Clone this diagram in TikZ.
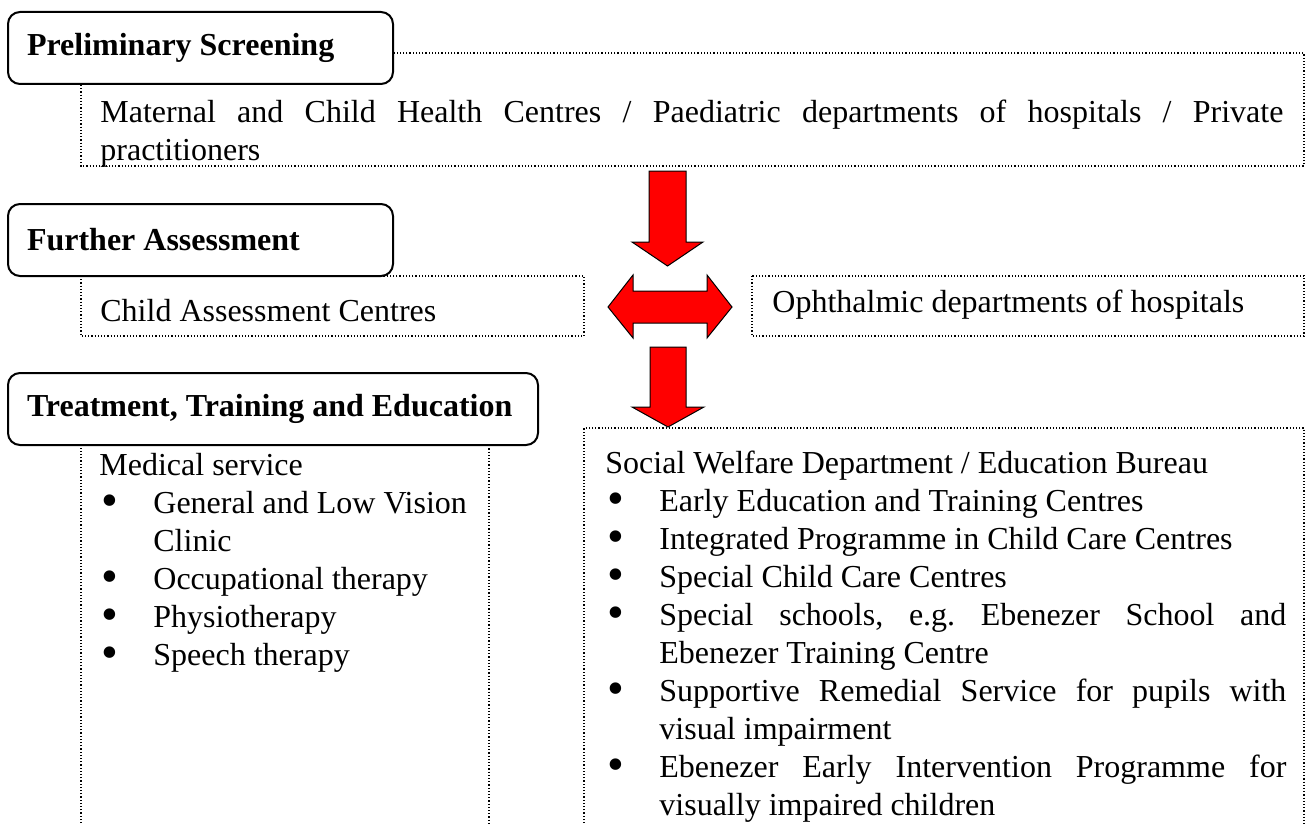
\documentclass[tikz,border=0pt]{standalone}
\usepackage{fontspec}
\setmainfont{Liberation Serif}
\usepackage{graphicx}
\usepackage{tikz}
\usetikzlibrary{positioning}

\newcommand{\blt}{\makebox[27pt][l]{\hspace{1pt}\smash{\raisebox{-0.1em}{\scalebox{1.5}{\textbullet}}}}}
\newcommand{\jline}[2]{\makebox[#1][s]{#2}}
\newcommand{\hang}{\hspace*{27pt}}
\newcommand{\wordsp}{\spaceskip=0pt\xspaceskip=0pt\relax}

\begin{document}
\fontsize{16pt}{19pt}\selectfont\frenchspacing
\setlength{\parindent}{0pt}
\hyphenpenalty=10000
\begin{tikzpicture}[x=0.5pt, y=-0.5pt,
    titlebox/.style={draw, line width=1pt, rounded corners=6pt, fill=white, anchor=north west,
        inner xsep=9.5pt, inner ysep=0pt, minimum height=36pt, font=\bfseries},
    framebox/.style={densely dotted, line width=0.6pt},
    txt/.style={anchor=north west, inner sep=0pt},
    blockarrow/.style={fill=red, draw=black, line width=0.5pt, line join=miter}]

        \useasboundingbox (0,0) rectangle (1305,824);

        % Dotted frames (behind the headings)
        \draw[framebox] (81,53) rectangle (1304,166);
        \draw[framebox] (81,276) rectangle (584,336);
        \draw[framebox] (752,276) rectangle (1304,336);
        \draw[framebox] (81,900) -- (81,443) -- (489,443) -- (489,900);
        \draw[framebox] (584,900) -- (584,428) -- (1304,428) -- (1304,900);

        % Headings
        \node[titlebox, text width=173.5pt] (prelim) at (7,11) {\wordsp\mbox{Preliminary Screening}};
        \node[titlebox, text width=173.5pt] (further) at (7,203) {\wordsp\mbox{Further Assessment}};
        \node[titlebox, text width=246pt] (treat) at (7,372) {\wordsp\mbox{Treatment, Training and Education}};

        % Contents
        \node[txt, text width=591.5pt] (screening) at (100,95.4)
            {\wordsp\strut\jline{591.5pt}{Maternal and Child Health Centres / Paediatric departments of hospitals / Private}\\
             practitioners};
        \node[txt, text width=230pt] (cac) at (100,294.4) {\wordsp\strut Child Assessment Centres};
        \node[txt, text width=260pt] (ophth) at (772,285.4) {\wordsp\strut Ophthalmic departments of hospitals};

        \node[txt, text width=195pt] (medical) at (99,448.4)
            {\wordsp\strut Medical service\\
             \blt General and Low Vision\\
             \hang Clinic\\
             \blt Occupational therapy\\
             \blt Physiotherapy\\
             \blt Speech therapy};

        \node[txt, text width=340.5pt] (welfare) at (605,446.4)
            {\wordsp\strut Social Welfare Department / Education Bureau\\
             \blt Early Education and Training Centres\\
             \blt Integrated Programme in Child Care Centres\\
             \blt Special Child Care Centres\\
             \blt\jline{313.5pt}{Special schools, e.g. Ebenezer School and}\\
             \hang Ebenezer Training Centre\\
             \blt\jline{313.5pt}{Supportive Remedial Service for pupils with}\\
             \hang visual impairment\\
             \blt\jline{313.5pt}{Ebenezer Early Intervention Programme for}\\
             \hang visually impaired children};

        % Block arrows
        \draw[blockarrow] (649,171) -- (686,171) -- (686,242) -- (703,242) -- (667.5,266)
            -- (632,242) -- (649,242) -- cycle;
        \draw[blockarrow] (608,307) -- (633,275) -- (633,291) -- (707,291) -- (707,275) -- (732,307)
            -- (707,338) -- (707,323) -- (633,323) -- (633,338) -- cycle;
        \draw[blockarrow] (650,347) -- (686,347) -- (686,407) -- (704,407) -- (668,427)
            -- (632,407) -- (650,407) -- cycle;
    \end{tikzpicture}
\end{document}
